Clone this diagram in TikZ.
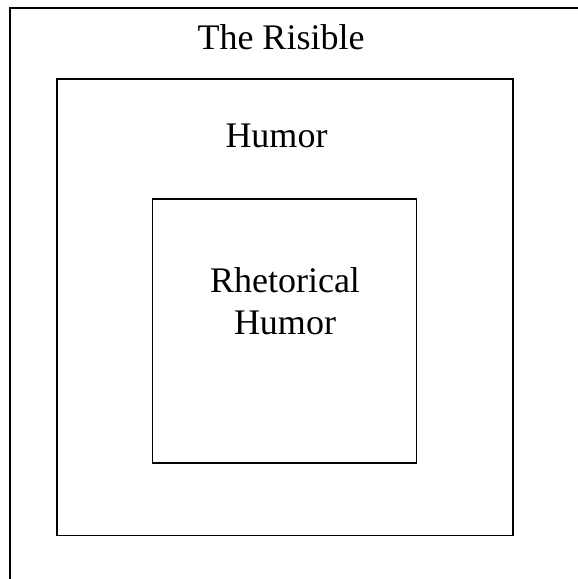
\documentclass[tikz,border=0pt]{standalone}
\usepackage{fontspec}
\setmainfont{Liberation Serif}
\begin{document}
\begin{tikzpicture}[x=1pt,y=-1pt,
  frame/.style={draw=black,line width=1.6pt},
  boxnode/.style={frame,inner sep=0pt,outer sep=0pt},
  label/.style={font=\fontsize{36}{42}\selectfont,inner sep=0pt,align=center,text=black}]
\useasboundingbox (0,0) rectangle (578,579);
\clip (0,0) rectangle (578,579);
\fill[white] (0,0) rectangle (578,579);
% outer (The Risible) frame, extends beyond the page
\coordinate (obl) at (10,600);
\coordinate (otl) at (10,8);
\coordinate (otr) at (600,8);
\draw[frame] (obl) -- (otl) -- (otr);
\node[boxnode,minimum width=456pt,minimum height=456.5pt] (humorbox) at (285,307.3) {};
\node[boxnode,minimum width=264pt,minimum height=264pt] (rhetbox) at (284.5,331) {};
\node[label,anchor=base] (risible) at (281,49) {The Risible};
\node[label,anchor=base] (humor) at (276.5,147) {Humor};
\node[label,anchor=base] (rhet) at (285,334) {Rhetorical\\Humor};
\end{tikzpicture}
\end{document}
